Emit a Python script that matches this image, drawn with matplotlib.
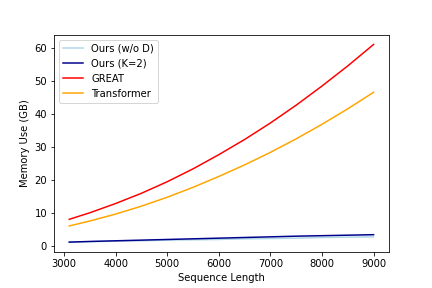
import matplotlib
matplotlib.use("Agg")
import matplotlib.pyplot as plt

seq_len = [3100, 3500, 4000, 4500, 5000, 5500, 6000, 6500, 7000, 7500, 8000, 8500, 9000]
ours_wo_d = [1.1, 1.2, 1.4, 1.5, 1.7, 1.8, 1.9, 2.1, 2.2, 2.3, 2.5, 2.6, 2.7]
ours_k2 = [1.1, 1.3, 1.5, 1.7, 1.9, 2.1, 2.3, 2.5, 2.7, 2.9, 3.05, 3.2, 3.35]
great = [8.0, 10.0, 12.8, 15.9, 19.4, 23.3, 27.6, 32.2, 37.2, 42.6, 48.4, 54.5, 61.0]
transformer = [6.0, 7.5, 9.6, 12.0, 14.7, 17.7, 21.0, 24.5, 28.3, 32.4, 36.8, 41.5, 46.5]

fig, ax = plt.subplots(figsize=(6, 4), dpi=72)
fig.subplots_adjust(bottom=0.125)
ax.plot(seq_len, ours_wo_d, color="lightblue", label="Ours (w/o D)")
ax.plot(seq_len, ours_k2, color="darkblue", label="Ours (K=2)")
ax.plot(seq_len, great, color="red", label="GREAT")
ax.plot(seq_len, transformer, color="orange", label="Transformer")
ax.set_xlabel("Sequence Length")
ax.set_ylabel("Memory Use (GB)")
ax.legend(loc="upper left")
fig.savefig("out.png")
